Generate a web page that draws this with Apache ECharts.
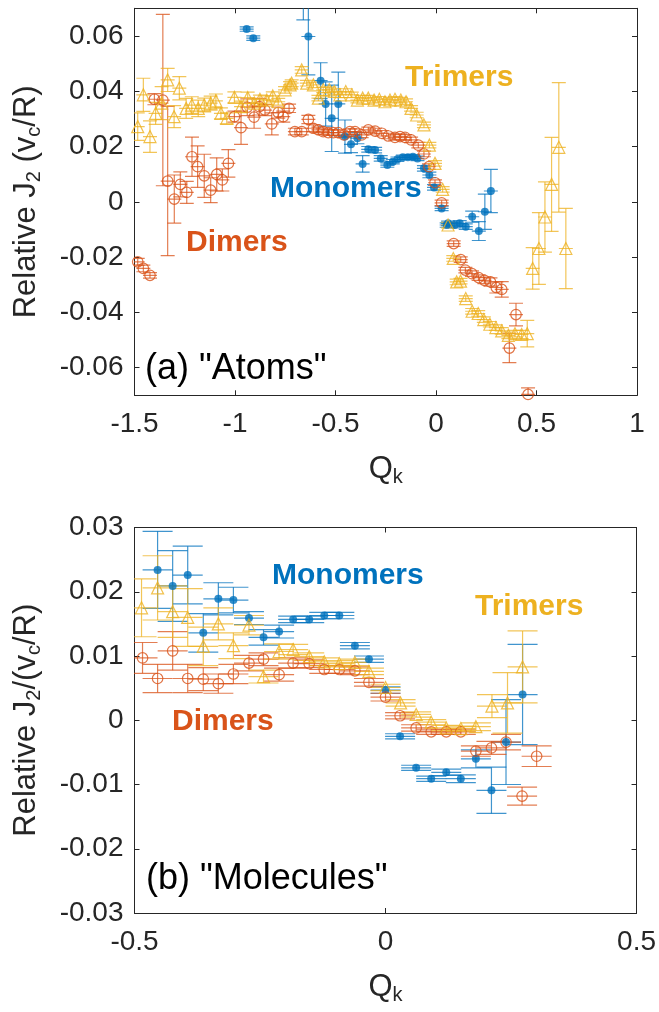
<!DOCTYPE html>
<html>
<head>
<meta charset="utf-8">
<script src="https://cdn.jsdelivr.net/npm/echarts@6/dist/echarts.min.js"></script>
<style>
  html, body { margin: 0; padding: 0; background: #fff; }
  #chart { width: 659px; height: 1012px; }
</style>
</head>
<body>
<div id="chart"></div>
<script>
// each row: [Qk, relative J2, error]
// (a) "Atoms"
const atomsMonomers = [
  [-0.942, 0.0625, 0.0008], [-0.909, 0.0592, 0.0008], [-0.660, 0.0800, 0.0142],
  [-0.635, 0.0598, 0.0139], [-0.574, 0.0438, 0.0065], [-0.549, 0.0354, 0.0080],
  [-0.519, 0.0302, 0.0120], [-0.486, 0.0354, 0.0115], [-0.453, 0.0236, 0.0060],
  [-0.423, 0.0208, 0.0030], [-0.391, 0.0230, 0.0020], [-0.365, 0.0137, 0.0030],
  [-0.337, 0.0190, 0.0010], [-0.303, 0.0187, 0.0010], [-0.275, 0.0157, 0.0010],
  [-0.242, 0.0133, 0.0008], [-0.215, 0.0145, 0.0008], [-0.192, 0.0154, 0.0008],
  [-0.165, 0.0161, 0.0008], [-0.140, 0.0161, 0.0008], [-0.115, 0.0163, 0.0008],
  [-0.092, 0.0157, 0.0008], [-0.060, 0.0121, 0.0010], [-0.033, 0.0097, 0.0010],
  [-0.010, 0.0052, 0.0010], [0.028, -0.0024, 0.0008], [0.053, -0.0084, 0.0008],
  [0.060, -0.0078, 0.0008], [0.093, -0.0084, 0.0010], [0.118, -0.0078, 0.0010],
  [0.148, -0.0090, 0.0010], [0.180, -0.0054, 0.0020], [0.213, -0.0106, 0.0034],
  [0.243, -0.0036, 0.0064], [0.273, 0.0039, 0.0078]
];
const atomsDimers = [
  [-1.484, -0.0217, 0.0012], [-1.456, -0.0241, 0.0012], [-1.423, -0.0266, 0.0010],
  [-1.401, 0.0371, 0.0020], [-1.359, 0.0368, 0.0310], [-1.335, 0.0075, 0.0270],
  [-1.302, 0.0010, 0.0087], [-1.272, 0.0063, 0.0045], [-1.240, 0.0034, 0.0040],
  [-1.214, 0.0163, 0.0071], [-1.186, 0.0127, 0.0075], [-1.153, 0.0094, 0.0078],
  [-1.121, 0.0042, 0.0045], [-1.091, 0.0099, 0.0060], [-1.063, 0.0079, 0.0040],
  [-1.033, 0.0139, 0.0050], [-1.003, 0.0308, 0.0020], [-0.970, 0.0268, 0.0060],
  [-0.939, 0.0342, 0.0030], [-0.905, 0.0306, 0.0040], [-0.879, 0.0344, 0.0030],
  [-0.851, 0.0332, 0.0020], [-0.817, 0.0282, 0.0040], [-0.785, 0.0323, 0.0020],
  [-0.760, 0.0308, 0.0020], [-0.731, 0.0338, 0.0015], [-0.702, 0.0254, 0.0012],
  [-0.668, 0.0254, 0.0012], [-0.635, 0.0298, 0.0015], [-0.610, 0.0266, 0.0012],
  [-0.585, 0.0260, 0.0010], [-0.561, 0.0254, 0.0010], [-0.536, 0.0250, 0.0010],
  [-0.511, 0.0250, 0.0010], [-0.486, 0.0250, 0.0010], [-0.458, 0.0242, 0.0010],
  [-0.428, 0.0254, 0.0010], [-0.403, 0.0254, 0.0010], [-0.370, 0.0242, 0.0010],
  [-0.337, 0.0260, 0.0010], [-0.303, 0.0256, 0.0010], [-0.270, 0.0248, 0.0010],
  [-0.237, 0.0238, 0.0010], [-0.204, 0.0233, 0.0010], [-0.179, 0.0236, 0.0010],
  [-0.154, 0.0233, 0.0010], [-0.124, 0.0224, 0.0010], [-0.088, 0.0205, 0.0010],
  [-0.060, 0.0173, 0.0010], [-0.035, 0.0127, 0.0010], [-0.005, 0.0069, 0.0010],
  [0.028, -0.0004, 0.0010], [0.088, -0.0151, 0.0010], [0.123, -0.0209, 0.0010],
  [0.146, -0.0247, 0.0010], [0.179, -0.0260, 0.0010], [0.212, -0.0274, 0.0010],
  [0.241, -0.0284, 0.0012], [0.271, -0.0290, 0.0015], [0.300, -0.0310, 0.0020],
  [0.327, -0.0317, 0.0028], [0.365, -0.0529, 0.0053], [0.398, -0.0408, 0.0041],
  [0.458, -0.0697, 0.0024]
];
const atomsTrimers = [
  [-1.484, 0.0272, 0.0050], [-1.456, 0.0387, 0.0060], [-1.423, 0.0236, 0.0057],
  [-1.395, 0.0320, 0.0040], [-1.365, 0.0357, 0.0060], [-1.335, 0.0441, 0.0042],
  [-1.303, 0.0308, 0.0040], [-1.277, 0.0411, 0.0042], [-1.243, 0.0338, 0.0036],
  [-1.215, 0.0350, 0.0030], [-1.183, 0.0338, 0.0030], [-1.153, 0.0350, 0.0025],
  [-1.121, 0.0357, 0.0025], [-1.095, 0.0365, 0.0025], [-1.070, 0.0320, 0.0020],
  [-1.041, 0.0302, 0.0020], [-1.003, 0.0378, 0.0020], [-0.970, 0.0344, 0.0020],
  [-0.937, 0.0377, 0.0020], [-0.904, 0.0357, 0.0015], [-0.876, 0.0371, 0.0015],
  [-0.842, 0.0368, 0.0015], [-0.812, 0.0383, 0.0015], [-0.785, 0.0362, 0.0012],
  [-0.751, 0.0405, 0.0012], [-0.726, 0.0423, 0.0012], [-0.718, 0.0429, 0.0012],
  [-0.668, 0.0477, 0.0012], [-0.643, 0.0429, 0.0010], [-0.610, 0.0423, 0.0010],
  [-0.585, 0.0375, 0.0010], [-0.561, 0.0405, 0.0010], [-0.531, 0.0405, 0.0010],
  [-0.506, 0.0399, 0.0010], [-0.478, 0.0387, 0.0010], [-0.449, 0.0399, 0.0010],
  [-0.419, 0.0387, 0.0010], [-0.391, 0.0368, 0.0010], [-0.365, 0.0375, 0.0010],
  [-0.337, 0.0375, 0.0010], [-0.308, 0.0368, 0.0010], [-0.282, 0.0371, 0.0010],
  [-0.254, 0.0362, 0.0010], [-0.229, 0.0368, 0.0010], [-0.204, 0.0371, 0.0010],
  [-0.175, 0.0368, 0.0010], [-0.149, 0.0362, 0.0010], [-0.124, 0.0338, 0.0010],
  [-0.096, 0.0314, 0.0010], [-0.060, 0.0278, 0.0010], [-0.033, 0.0205, 0.0010],
  [-0.005, 0.0139, 0.0010], [0.033, 0.0045, 0.0010], [0.060, -0.0084, 0.0010],
  [0.086, -0.0205, 0.0010], [0.103, -0.0290, 0.0010], [0.122, -0.0287, 0.0010],
  [0.148, -0.0350, 0.0010], [0.180, -0.0396, 0.0010], [0.210, -0.0404, 0.0010],
  [0.238, -0.0426, 0.0010], [0.268, -0.0443, 0.0010], [0.298, -0.0455, 0.0010],
  [0.327, -0.0467, 0.0012], [0.360, -0.0483, 0.0012], [0.393, -0.0477, 0.0012],
  [0.426, -0.0480, 0.0015], [0.454, -0.0477, 0.0048], [0.481, -0.0241, 0.0075],
  [0.512, -0.0169, 0.0130], [0.542, -0.0055, 0.0127], [0.575, 0.0063, 0.0170],
  [0.611, 0.0197, 0.0234], [0.646, -0.0169, 0.0145]
];

// (b) "Molecules"
const molMonomers = [
  [-0.454, 0.0234, 0.0060], [-0.424, 0.0209, 0.0055], [-0.394, 0.0226, 0.0045],
  [-0.363, 0.0136, 0.0030], [-0.333, 0.0189, 0.0025], [-0.303, 0.0187, 0.0020],
  [-0.272, 0.0159, 0.0010], [-0.243, 0.0129, 0.0012], [-0.212, 0.0138, 0.0010],
  [-0.184, 0.0157, 0.0005], [-0.152, 0.0157, 0.0005], [-0.122, 0.0163, 0.0005],
  [-0.092, 0.0163, 0.0005], [-0.061, 0.0116, 0.0005], [-0.033, 0.0095, 0.0005],
  [0.000, 0.0047, 0.0005], [0.029, -0.0025, 0.0004], [0.061, -0.0074, 0.0004],
  [0.091, -0.0091, 0.0004], [0.121, -0.0081, 0.0005], [0.150, -0.0091, 0.0006],
  [0.180, -0.0060, 0.0014], [0.211, -0.0109, 0.0036], [0.240, -0.0034, 0.0066],
  [0.273, 0.0040, 0.0078]
];
const molDimers = [
  [-0.484, 0.0097, 0.0024], [-0.454, 0.0065, 0.0022], [-0.424, 0.0108, 0.0030],
  [-0.394, 0.0065, 0.0022], [-0.363, 0.0064, 0.0018], [-0.333, 0.0057, 0.0015],
  [-0.303, 0.0072, 0.0015], [-0.272, 0.0089, 0.0012], [-0.243, 0.0095, 0.0010],
  [-0.212, 0.0071, 0.0010], [-0.184, 0.0089, 0.0008], [-0.152, 0.0088, 0.0006],
  [-0.122, 0.0079, 0.0006], [-0.092, 0.0079, 0.0006], [-0.061, 0.0077, 0.0006],
  [-0.033, 0.0059, 0.0006], [0.000, 0.0036, 0.0006], [0.029, 0.0007, 0.0005],
  [0.061, -0.0012, 0.0005], [0.091, -0.0018, 0.0004], [0.121, -0.0018, 0.0004],
  [0.150, -0.0018, 0.0004], [0.180, -0.0048, 0.0008], [0.211, -0.0043, 0.0010],
  [0.240, -0.0034, 0.0012], [0.272, -0.0118, 0.0014], [0.301, -0.0056, 0.0016]
];
const molTrimers = [
  [-0.486, 0.0175, 0.0045], [-0.454, 0.0206, 0.0050], [-0.424, 0.0169, 0.0040],
  [-0.394, 0.0160, 0.0045], [-0.363, 0.0115, 0.0030], [-0.333, 0.0150, 0.0025],
  [-0.303, 0.0116, 0.0020], [-0.272, 0.0148, 0.0015], [-0.243, 0.0068, 0.0010],
  [-0.212, 0.0107, 0.0012], [-0.184, 0.0110, 0.0008], [-0.152, 0.0099, 0.0006],
  [-0.122, 0.0091, 0.0006], [-0.092, 0.0088, 0.0005], [-0.061, 0.0090, 0.0005],
  [-0.033, 0.0076, 0.0005], [0.000, 0.0051, 0.0005], [0.030, 0.0027, 0.0005],
  [0.061, 0.0009, 0.0004], [0.091, -0.0003, 0.0004], [0.121, -0.0012, 0.0004],
  [0.150, -0.0013, 0.0004], [0.180, -0.0010, 0.0006], [0.212, 0.0022, 0.0018],
  [0.243, 0.0027, 0.0047], [0.273, 0.0083, 0.0056]
];

const atomsYTicks = [-0.06, -0.04, -0.02, 0, 0.02, 0.04, 0.06];

const BLUE = "#0072BD";
const RED = "#D95319";
const YELLOW = "#EDB120";
const FONT = "'Liberation Sans', Arial, Helvetica, sans-serif";
const INK = "#262626";

// vertical bar with caps, plus a short horizontal bar through the point
function errorBars(color, half) {
  return function (params, api) {
    const x = api.value(0), y = api.value(1), e = api.value(2);
    const hi = api.coord([x, y + e]);
    const lo = api.coord([x, y - e]);
    const mid = api.coord([x, y]);
    const style = { stroke: color, lineWidth: 1.2, opacity: 0.75, fill: null };
    const seg = (x1, y1, x2, y2) => ({ type: "line", shape: { x1, y1, x2, y2 }, style });
    return {
      type: "group",
      children: [
        seg(hi[0], hi[1], lo[0], lo[1]),
        seg(hi[0] - half, hi[1], hi[0] + half, hi[1]),
        seg(lo[0] - half, lo[1], lo[0] + half, lo[1]),
        seg(mid[0] - half, mid[1], mid[0] + half, mid[1]),
      ],
    };
  };
}

function bars(data, color, half, panel) {
  return {
    type: "custom",
    xAxisIndex: panel * 2,
    yAxisIndex: panel * 2,
    clip: true,
    renderItem: errorBars(color, half),
    encode: { x: 0, y: 1 },
    data: data,
    silent: true,
  };
}

function marks(data, color, kind, panel) {
  const filled = kind === "dot";
  return {
    type: "scatter",
    xAxisIndex: panel * 2,
    yAxisIndex: panel * 2,
    clip: true,
    symbol: kind === "tri" ? "triangle" : "circle",
    symbolSize: kind === "tri" ? 12 : filled ? 8 : 10.5,
    itemStyle: filled
      ? { color: color }
      : { color: "rgba(255,255,255,0)", borderColor: color, borderWidth: 1.2 },
    data: data.map((d) => [d[0], d[1]]),
    silent: true,
  };
}

const tickFmt = (v) => String(+(+v).toFixed(3));

const nameRich = {
  a: { fontSize: 31, fontFamily: FONT, color: INK, lineHeight: 36 },
  s: { fontSize: 20, fontFamily: FONT, color: INK, lineHeight: 18, verticalAlign: "bottom" },
};

function xAxes(grid, min, max) {
  const base = {
    gridIndex: grid, type: "value", min: min, max: max, interval: 0.5,
    axisLine: { onZero: false, lineStyle: { color: INK, width: 1 } },
    axisTick: { inside: true, length: 5, lineStyle: { color: INK } },
    splitLine: { show: false },
  };
  return [
    Object.assign({}, base, {
      position: "bottom",
      axisLabel: { color: INK, fontSize: 28, fontFamily: FONT, margin: 15, formatter: tickFmt },
      name: "{a|Q}{s|k}",
      nameLocation: "middle",
      nameGap: 56,
      nameTextStyle: { rich: nameRich },
    }),
    Object.assign({}, base, { position: "top", axisLabel: { show: false } }),
  ];
}

function yAxes(grid, min, max, extra, name) {
  const base = Object.assign({
    gridIndex: grid, type: "value", min: min, max: max,
    axisLine: { show: true, onZero: false, lineStyle: { color: INK, width: 1 } },
    splitLine: { show: false },
  }, extra);
  const lab = Object.assign({ color: INK, fontSize: 28, fontFamily: FONT, margin: 11, formatter: tickFmt },
    extra.axisLabel || {});
  const tick = Object.assign({ show: true, inside: true, length: 5, lineStyle: { color: INK } },
    extra.axisTick || {});
  return [
    Object.assign({}, base, {
      position: "left",
      axisTick: tick,
      axisLabel: lab,
      name: name,
      nameLocation: "middle",
      nameRotate: 90,
      nameGap: 90,
      nameTextStyle: { rich: nameRich },
    }),
    Object.assign({}, base, { position: "right", axisTick: tick, axisLabel: { show: false } }),
  ];
}

function label(text, x, y, color, size, bold) {
  return {
    type: "text",
    x: x, y: y, z: 100,
    style: {
      text: text, fill: color, align: "left", verticalAlign: "middle",
      font: (bold ? "bold " : "") + size + "px " + FONT,
    },
  };
}

const options = {
  animation: false,
  backgroundColor: "#fff",
  grid: [
    { left: 134.5, top: 8.3, width: 502.5, height: 387 },
    { left: 134.5, top: 527.5, width: 502.5, height: 385.5 },
  ],
  xAxis: xAxes(0, -1.5, 1).concat(xAxes(1, -0.5, 0.5)),
  yAxis: yAxes(0, -0.07, 0.07, {
    axisTick: { customValues: atomsYTicks },
    axisLabel: { customValues: atomsYTicks },
  }, "{a|Relative J}{s|2}{a| (v}{s|c}{a|/R)}").concat(
    yAxes(1, -0.03, 0.03, { interval: 0.01 }, "{a|Relative J}{s|2}{a|/(v}{s|c}{a|/R)}")
  ),
  series: [
    bars(atomsMonomers, BLUE, 7, 0),
    marks(atomsMonomers, BLUE, "dot", 0),
    bars(atomsDimers, RED, 7, 0),
    marks(atomsDimers, RED, "ring", 0),
    bars(atomsTrimers, YELLOW, 7, 0),
    marks(atomsTrimers, YELLOW, "tri", 0),
    bars(molMonomers, BLUE, 15, 1),
    marks(molMonomers, BLUE, "dot", 1),
    bars(molDimers, RED, 15, 1),
    marks(molDimers, RED, "ring", 1),
    bars(molTrimers, YELLOW, 15, 1),
    marks(molTrimers, YELLOW, "tri", 1),
  ],
  graphic: [
    label("Trimers", 405, 78, YELLOW, 30, true),
    label("Monomers", 270, 189, BLUE, 30, true),
    label("Dimers", 186, 243, RED, 30, true),
    label('(a) "Atoms"', 145, 369, "#000", 36, false),
    label("Monomers", 272, 576, BLUE, 30, true),
    label("Trimers", 475, 607, YELLOW, 30, true),
    label("Dimers", 172, 722, RED, 30, true),
    label('(b) "Molecules"', 146, 879, "#000", 36, false),
  ],
};

const chart = echarts.init(document.querySelector("#chart"), null, { renderer: "canvas" });
chart.setOption(options);
</script>
</body>
</html>
